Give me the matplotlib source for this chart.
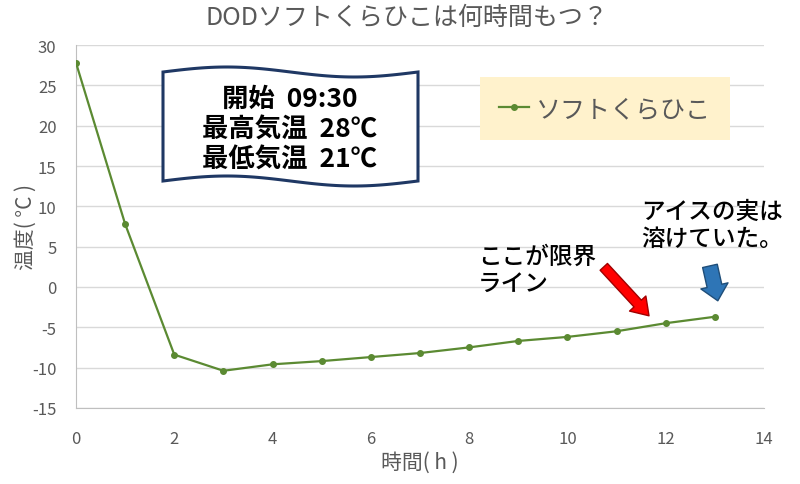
import numpy as np
import matplotlib.pyplot as plt
from matplotlib.patches import Polygon

plt.rcParams['font.family'] = ['Noto Sans CJK JP', 'DejaVu Sans']
plt.rcParams['axes.unicode_minus'] = False

# data
hours = [0, 1, 2, 3, 4, 5, 6, 7, 8, 9, 10, 11, 12, 13]
temps = [27.8, 7.8, -8.4, -10.4, -9.6, -9.2, -8.7, -8.2, -7.5, -6.7, -6.2, -5.5, -4.5, -3.7]
series_name = "ソフトくらひこ"
title = "DODソフトくらひこは何時間もつ？"
info_text = "開始  09:30\n最高気温  28℃\n最低気温  21℃"
note1 = "ここが限界\nライン"
note2 = "アイスの実は\n溶けていた。"

fig = plt.figure(figsize=(8, 4.85), dpi=100)
ax = fig.add_axes([0.095, 0.157, 0.86, 0.748])

green = "#5B8A32"
ax.plot(hours, temps, color=green, lw=1.6, marker='o', ms=4, label=series_name, zorder=3)

ax.set_xlim(0, 14)
ax.set_ylim(-15, 30)
ax.set_xticks(range(0, 15, 2))
ax.set_yticks(range(-15, 31, 5))
ax.grid(axis='y', color='#D9D9D9', lw=1)
ax.set_axisbelow(True)
for s in ['top', 'right']:
    ax.spines[s].set_visible(False)
for s in ['left', 'bottom']:
    ax.spines[s].set_color('#BFBFBF')
ax.tick_params(length=0, labelsize=12, labelcolor='#595959')
ax.tick_params(axis='x', pad=16)
ax.tick_params(axis='y', pad=14)
ax.set_xlabel("時間( h )", fontsize=15, color='#595959', labelpad=3)
ax.set_ylabel("温度( °C )", fontsize=15, color='#595959')
ax.yaxis.set_label_coords(-0.057, 0.5)
fig.text(407 / 800, 1 - 18 / 485, title, ha='center', va='center', fontsize=18, color='#595959')

leg = ax.legend(loc='upper left', bbox_to_anchor=(0.587, 0.912), fontsize=18,
                frameon=True, fancybox=False, handlelength=1.2, handletextpad=0.3,
                borderpad=0.75, borderaxespad=0, labelcolor='#595959')
leg.get_frame().set_facecolor('#FFF2CC')
leg.get_frame().set_edgecolor('none')
leg.get_frame().set_alpha(1)

# wavy box (figure pixel coords -> fraction)
W, H = 800, 485
t = np.linspace(0, 1, 60)
x0, x1 = 163, 418
xs = x0 + (x1 - x0) * t
top = 73 - 5 * np.sin(2 * np.pi * t)
bot = 182 - 5 * np.sin(2 * np.pi * t)
pts = np.concatenate([np.column_stack([xs, top]), np.column_stack([xs[::-1], bot[::-1]])])
pts[:, 0] /= W
pts[:, 1] = 1 - pts[:, 1] / H
fig.patches.append(Polygon(pts, closed=True, transform=fig.transFigure,
                           facecolor='white', edgecolor='#1F3864', lw=2.2, zorder=5))
fig.text(290 / W, 1 - 130 / H, info_text, ha='center', va='center', fontsize=19,
         fontweight='bold', linespacing=1.15, zorder=6)

# notes
fig.text(478 / W, 1 - 271 / H, note1, ha='left', va='center', fontsize=17,
         fontweight='medium', linespacing=1.2, zorder=6)
fig.text(641 / W, 1 - 226 / H, note2, ha='left', va='center', fontsize=17,
         fontweight='medium', linespacing=1.2, zorder=6)

# arrows
ax.annotate('', xy=(11.66, -3.58), xytext=(10.74, 2.49),
            arrowprops=dict(arrowstyle='simple,head_width=0.8,head_length=0.6,tail_width=0.36',
                            mutation_scale=20, shrinkA=0, shrinkB=0,
                            fc='#FF0000', ec='#A00000', lw=1), zorder=6)
ax.annotate('', xy=(13.06, -1.72), xytext=(12.90, 2.61),
            arrowprops=dict(arrowstyle='simple,head_width=1.0,head_length=0.55,tail_width=0.54',
                            mutation_scale=20, shrinkA=0, shrinkB=0,
                            fc='#2E75B6', ec='#1F4E79', lw=1), zorder=6)

fig.savefig("out.png", dpi=100)
